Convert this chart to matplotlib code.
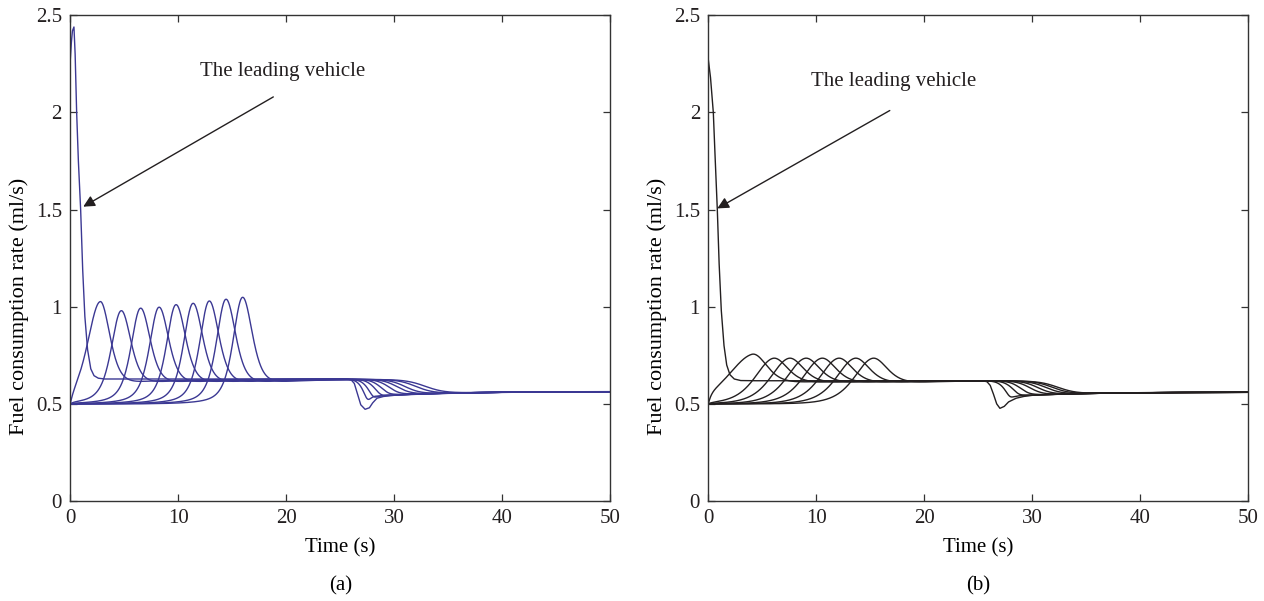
import numpy as np
import matplotlib
matplotlib.use("Agg")
import matplotlib.pyplot as plt

plt.rcParams['font.family'] = ['Liberation Serif', 'DejaVu Serif']
plt.rcParams['font.size'] = 15

# ---- panel (a) ----
# leading vehicle, sampled points (s, ml/s)
lead_t_a = [0, 0.1, 0.2, 0.34, 0.45, 0.59, 0.75, 0.96, 1.15, 1.35, 1.6, 1.9, 2.2, 2.6, 3.2, 4.5,
            25.6, 26.0, 26.3, 26.6, 26.9, 27.3, 27.7, 28.0, 28.4, 29.0, 30, 32, 35, 39, 44, 50]
lead_v_a = [2.27, 2.36, 2.42, 2.44, 2.30, 2.00, 1.75, 1.50, 1.19, 0.95, 0.78, 0.68, 0.645, 0.632, 0.628, 0.628,
            0.628, 0.624, 0.605, 0.55, 0.495, 0.472, 0.48, 0.505, 0.529, 0.538, 0.544, 0.549, 0.554, 0.558, 0.562, 0.563]
# followers: time and height of the acceleration peak
peak_t_a = [2.75, 4.69, 6.48, 8.19, 9.76, 11.34, 12.84, 14.39, 15.93]
peak_v_a = [1.026, 0.979, 0.992, 0.997, 1.010, 1.017, 1.029, 1.038, 1.048]
# rise width of each hump
rise_w_a = [1.5, 1.15, 1.1, 1.1, 1.1, 1.1, 1.1, 1.1, 1.1]
# braking phase: onset time and extra dip depth
drop_t_a = [26.4, 26.8, 27.3, 27.8, 28.4, 29.0, 29.6, 30.4, 31.1]
dip_d_a = [0.035, 0.022, 0.012, 0.006, 0.003, 0.0, 0.0, 0.0, 0.0]

# ---- panel (b) ----
lead_t_b = [0, 0.2, 0.46, 0.62, 0.83, 1.0, 1.2, 1.45, 1.7, 2.0, 2.4, 3.0, 4.5,
            25.4, 25.8, 26.1, 26.4, 26.7, 27.0, 27.4, 27.8, 28.5, 29.2, 30, 32, 35, 39, 44, 50]
lead_v_b = [2.27, 2.18, 2.00, 1.78, 1.50, 1.22, 0.98, 0.80, 0.70, 0.65, 0.628, 0.62, 0.619,
            0.619, 0.614, 0.595, 0.55, 0.50, 0.477, 0.487, 0.51, 0.529, 0.538, 0.544, 0.549, 0.554, 0.557, 0.56, 0.56]
peak_t_b = [4.02, 5.95, 7.4, 8.9, 10.4, 11.95, 13.5, 15.15]
peak_v_b = [0.755, 0.734, 0.734, 0.734, 0.734, 0.734, 0.734, 0.734]
rise_w_b = [3.0, 2.15, 2.15, 2.15, 2.15, 2.15, 2.15, 2.15]
drop_t_b = [26.7, 27.3, 27.9, 28.6, 29.2, 29.8, 30.3, 30.7]
dip_d_b = [0.02, 0.008, 0.003, 0.0, 0.0, 0.0, 0.0, 0.0]


def sech2(x):
    return 1.0 / np.cosh(np.clip(x, -300, 300)) ** 2


def sigm(x):
    return 1.0 / (1.0 + np.exp(-np.clip(x, -300, 300)))


def follower(t, tp, peak, w_up, w_dn, w_step, lo, hi, sag, td, depth, end_v):
    x = t - tp
    step = np.where(x < 0, sigm(x / w_step), sigm(x / w_dn))
    hump = np.where(x < 0, sech2(x / w_up), sech2(x / w_dn))
    y = lo + (hi - lo) * step + (peak - (lo + hi) / 2) * hump
    # slight undershoot after the hump that fades out
    y = y - sag * step * np.exp(-np.clip(x, 0, None) / 6.0) * (x > 0) * (1 - sech2(x / w_dn))
    y = lo + (y - lo) * (1 - np.exp(-t / 0.25))
    # braking around t = 26 s
    wd = 0.3 + 0.12 * (td - 26.0)
    D = sigm((t - td - 2 * wd) / wd)
    settle = end_v - (end_v - 0.54) * np.exp(-np.clip(t - 28.5, 0, None) / 6.0)
    y = y * (1 - D) + settle * D - depth * sech2((t - td - 3.2 * wd) / (1.2 * wd))
    return y


t = np.linspace(0, 50, 2001)
color_a = '#3b3893'
color_b = '#231f20'

fig = plt.figure(figsize=(12.64, 6.01), dpi=100)
ax_a = fig.add_axes([0.0556, 0.1664, 0.4272, 0.8081])
ax_b = fig.add_axes([0.5604, 0.1664, 0.4272, 0.8081])

for tp, pv, wu, td, dd in zip(peak_t_a, peak_v_a, rise_w_a, drop_t_a, dip_d_a):
    y = follower(t, tp, pv, wu, 1.2, 1.8, 0.5, 0.628, 0.02, td, dd, 0.563)
    ax_a.plot(t, y, color=color_a, lw=1.0)
ax_a.plot(lead_t_a, lead_v_a, color=color_a, lw=1.0)

for tp, pv, wu, td, dd in zip(peak_t_b, peak_v_b, rise_w_b, drop_t_b, dip_d_b):
    y = follower(t, tp, pv, wu, 1.85, 1.8, 0.5, 0.619, 0.004, td, dd, 0.56)
    ax_b.plot(t, y, color=color_b, lw=1.0)
ax_b.plot(lead_t_b, lead_v_b, color=color_b, lw=1.0)

panels = [(ax_a, '(a)', (12.0, 2.21), (18.8, 2.08), (1.2, 1.515)),
          (ax_b, '(b)', (9.55, 2.16), (16.8, 2.01), (0.83, 1.506))]
for ax, tag, txt_xy, tail, head in panels:
    ax.set_xlim(0, 50)
    ax.set_ylim(0, 2.5)
    ax.set_xticks([0, 10, 20, 30, 40, 50])
    ax.set_yticks([0, 0.5, 1, 1.5, 2, 2.5])
    ax.set_yticklabels(['0', '0.5', '1', '1.5', '2', '2.5'])
    ax.tick_params(direction='in', top=True, right=True, length=5, width=0.9, pad=6,
                   colors='#333333', labelcolor='#231f20')
    for sp in ax.spines.values():
        sp.set_color('#333333')
        sp.set_linewidth(1.0)
    ax.set_xlabel('Time (s)', labelpad=7)
    ax.set_ylabel('Fuel consumption rate (ml/s)', fontsize=16)
    ax.yaxis.set_label_coords(-0.076, 0.40)
    ax.text(txt_xy[0], txt_xy[1], 'The leading vehicle', ha='left', va='center', color='#231f20')
    ax.annotate('', xy=head, xytext=tail,
                arrowprops=dict(arrowstyle='-|>', color='#231f20', lw=1.0,
                                mutation_scale=17, shrinkA=0, shrinkB=0))
    bb = ax.get_position()
    fig.text((bb.x0 + bb.x1) / 2, 0.025, tag, ha='center', va='center')

fig.savefig('out.png', dpi=100)
